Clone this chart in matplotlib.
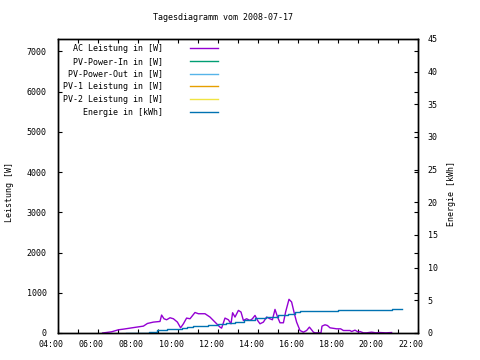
import matplotlib
matplotlib.use('Agg')
import matplotlib.pyplot as plt
import matplotlib.transforms as mtransforms

plt.rcParams['font.family'] = 'DejaVu Sans Mono'
plt.rcParams['font.size'] = 6

# AC Leistung [W] (Stunde, Wert)
ac_h = [6.23, 6.68, 7.02, 7.27, 7.6, 7.93, 8.27, 8.47, 8.77, 9.1, 9.18, 9.3, 9.43,
        9.6, 9.77, 9.97, 10.13, 10.27, 10.43, 10.6, 10.85, 11.02, 11.35, 11.6, 11.85,
        12.1, 12.18, 12.27, 12.35, 12.52, 12.65, 12.73, 12.85, 13.02, 13.15, 13.27,
        13.43, 13.6, 13.72, 13.85, 13.98, 14.1, 14.27, 14.43, 14.6, 14.72, 14.85,
        14.98, 15.1, 15.27, 15.38, 15.55, 15.68, 15.82, 15.93, 16.1, 16.27, 16.43,
        16.57, 16.68, 16.77, 16.85, 17.15, 17.2, 17.35, 17.47, 17.6, 17.93, 18.13,
        18.27, 18.6, 18.68, 18.85, 19.02, 19.1, 19.27, 19.43, 19.68, 19.9, 20.07,
        20.4, 20.68]
ac_w = [0, 30, 80, 96, 121, 146, 171, 237, 271, 287, 446, 354, 329,
        379, 354, 271, 129, 229, 371, 354, 510, 479, 479, 396, 271,
        146, 121, 254, 371, 329, 229, 504, 396, 562, 521, 312,
        354, 312, 354, 437, 312, 229, 271, 396, 354, 329, 587,
        396, 254, 254, 521, 838, 771, 479, 271, 62, 21, 62,
        146, 79, 21, 4, 4, 171, 204, 187, 129, 104, 104,
        62, 62, 37, 71, 21, 37, 4, 4, 21, 4, 12,
        4, 12]

# Energie [kWh]
en_h = [7.4, 8.0, 8.57, 8.93, 9.47, 10.18, 10.43, 10.77, 11.1, 11.5, 12.02, 12.4,
        12.85, 13.3, 13.85, 14.4, 15.02, 15.5, 15.85, 16.1, 18.02, 20.68, 21.18]
en_kwh = [0.0, 0.05, 0.2, 0.4, 0.6, 0.77, 0.87, 1.0, 1.1, 1.2, 1.33, 1.55,
          1.75, 2.0, 2.25, 2.45, 2.7, 2.95, 3.15, 3.3, 3.45, 3.62, 3.62]

labels = ['AC Leistung in [W]', 'PV-Power-In in [W]', 'PV-Power-Out in [W]',
          'PV-1 Leistung in [W]', 'PV-2 Leistung in [W]', 'Energie in [kWh]']
colors = ['#9400d3', '#009e73', '#56b4e9', '#e69f00', '#f0e442', '#0072b2']

fig = plt.figure(figsize=(4.8, 3.6), dpi=100)
ax = fig.add_axes([58 / 480, 27 / 360, 360 / 480, 294 / 360])
ax2 = ax.twinx()

handles = []
handles += ax.plot(ac_h, ac_w, color=colors[0], lw=1, label=labels[0])
for i in range(1, 5):
    handles += ax.plot([], [], color=colors[i], lw=1, label=labels[i])
handles += ax2.plot(en_h, en_kwh, color=colors[5], lw=1, drawstyle='steps-post', label=labels[5])

ax.set_xlim(4, 22)
ax.set_ylim(0, 7310)
ax2.set_ylim(0, 45)

ax.set_xticks(range(4, 23, 2))
ax.set_xticks(range(4, 23), minor=True)
ax.set_xticklabels(['%02d:00' % h for h in range(4, 23, 2)])
ax.set_yticks(range(0, 7001, 1000))
ax2.set_yticks(range(0, 46, 5))

ax.tick_params(axis='both', which='both', direction='in', length=3, width=0.8,
               top=True, right=True, labelsize=6)
ax.tick_params(axis='x', pad=5)
ax.tick_params(axis='y', pad=8)
ax2.tick_params(axis='y', direction='in', length=3, width=0.8, pad=7, labelsize=6)

shift = mtransforms.ScaledTranslation(-7 / 100, 0, fig.dpi_scale_trans)
for lab in ax.get_xticklabels():
    lab.set_transform(lab.get_transform() + shift)

for a in (ax, ax2):
    for s in a.spines.values():
        s.set_linewidth(1)

fig.text(223 / 480, 1 - 18 / 360, 'Tagesdiagramm vom 2008-07-17', ha='center', va='center')
fig.text(10 / 480, 1 - 192 / 360, 'Leistung [W]', rotation=90, ha='center', va='center')
fig.text(452 / 480, 1 - 194 / 360, 'Energie [kWh]', rotation=90, ha='center', va='center')

ax2.legend(handles, labels, loc='upper left', bbox_to_anchor=(0.0, 1.0),
           frameon=False, markerfirst=False, handlelength=3.4, handletextpad=3.2,
           labelspacing=0.45, borderpad=0.4, borderaxespad=0.2)

fig.savefig('out.png', dpi=100)
